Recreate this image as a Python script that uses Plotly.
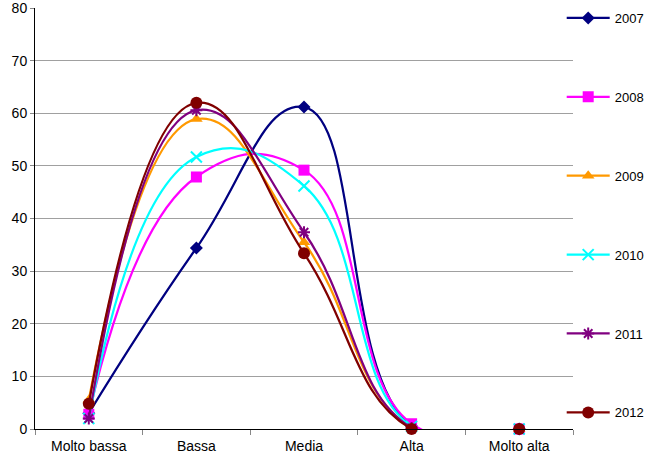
import plotly.graph_objects as go

categories = ["Molto bassa", "Bassa", "Media", "Alta", "Molto alta"]
years = ["2007", "2008", "2009", "2010", "2011", "2012"]
v2007 = [3.0, 34.4, 61.2, 0.5, 0.0]
v2008 = [2.8, 47.9, 49.2, 1.0, 0.0]
v2009 = [5.5, 58.9, 35.5, 0.3, 0.0]
v2010 = [2.0, 51.7, 46.2, 0.5, 0.0]
v2011 = [2.0, 60.6, 37.4, 0.2, 0.0]
v2012 = [4.8, 62.0, 33.4, 0.0, 0.0]
series = [v2007, v2008, v2009, v2010, v2011, v2012]
colors = ["#000080", "#FF00FF", "#FF9900", "#00FFFF", "#800080", "#800000"]
symbols = ["diamond", "square", "triangle-up", "x-thin", "asterisk", "circle"]
sizes = [10, 11, 11, 11, 10, 12]

fig = go.Figure()
for yr, vals, c, s, sz in zip(years, series, colors, symbols, sizes):
    thin = s in ("x-thin", "asterisk")
    fig.add_trace(go.Scatter(
        x=categories, y=vals, name=yr, mode="lines+markers",
        line=dict(color=c, width=2.25, shape="spline", smoothing=1.3),
        marker=dict(symbol=s, size=sz, color=c,
                    line=dict(color=c, width=2 if thin else 0)),
        cliponaxis=False, legendgroup=yr,
    ))

fig.update_layout(
    width=646, height=470,
    margin=dict(l=35, r=73, t=8, b=41, autoexpand=False),
    paper_bgcolor="white", plot_bgcolor="white",
    font=dict(family="Liberation Sans, Arial, sans-serif", size=13, color="black"),
    showlegend=True,
    legend=dict(x=0.979, xanchor="left", y=1.012, yanchor="top",
                tracegroupgap=59, font=dict(size=13), maxheight=470,
                bgcolor="rgba(0,0,0,0)", itemwidth=43),
    xaxis=dict(type="category", range=[-0.5, 4.5], showline=True,
               linecolor="black", linewidth=1,
               ticks="outside", tickson="boundaries", ticklen=5, tickcolor="#888",
               showgrid=False, tickfont=dict(size=14), ticklabelstandoff=4),
    yaxis=dict(range=[0, 80.02], tickvals=[0, 10, 20, 30, 40, 50, 60, 70, 80],
               showline=True, linecolor="black", linewidth=1,
               ticks="outside", ticklen=4, tickcolor="#888",
               showgrid=True, gridcolor="#A0A0A0", gridwidth=1,
               zeroline=False, tickfont=dict(size=14)),
)

fig.write_html("out.html", config={"displayModeBar": False},
               post_script="document.body.style.margin='0';")
